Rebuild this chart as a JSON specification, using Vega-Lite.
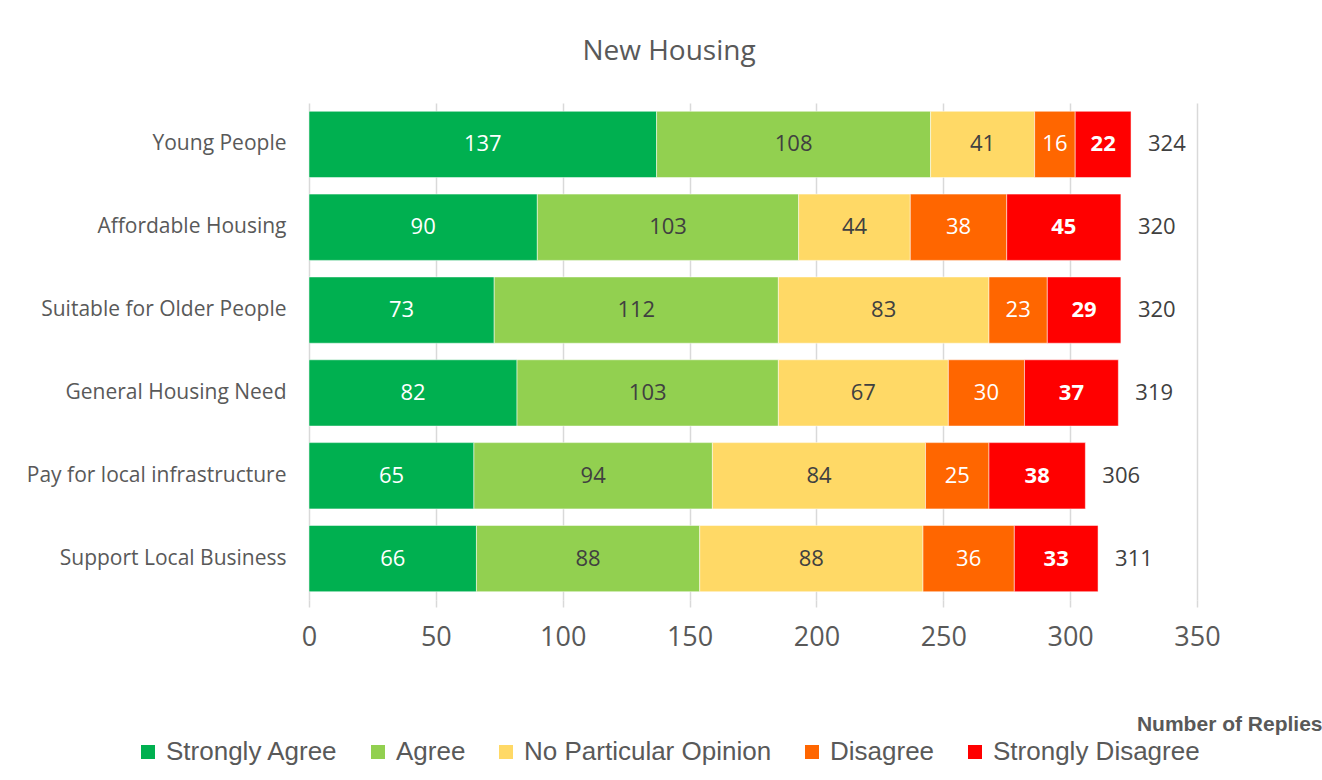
{
  "$schema": "https://vega.github.io/schema/vega-lite/v6.json",
  "autosize": "none",
  "width": 888,
  "height": 497,
  "padding": {"left": 309, "top": 103, "right": 125, "bottom": 180},
  "background": "white",
  "title": {
    "text": "New Housing",
    "font": "Open Sans",
    "fontSize": 28,
    "fontWeight": "normal",
    "color": "#595959",
    "anchor": "middle",
    "dx": -84,
    "offset": 37
  },
  "data": {
    "values": [
      {"item": "Young People", "cat": "Strongly Agree", "k": 1, "value": 137},
      {"item": "Young People", "cat": "Agree", "k": 2, "value": 108},
      {"item": "Young People", "cat": "No Particular Opinion", "k": 3, "value": 41},
      {"item": "Young People", "cat": "Disagree", "k": 4, "value": 16},
      {"item": "Young People", "cat": "Strongly Disagree", "k": 5, "value": 22},
      {"item": "Affordable Housing", "cat": "Strongly Agree", "k": 1, "value": 90},
      {"item": "Affordable Housing", "cat": "Agree", "k": 2, "value": 103},
      {"item": "Affordable Housing", "cat": "No Particular Opinion", "k": 3, "value": 44},
      {"item": "Affordable Housing", "cat": "Disagree", "k": 4, "value": 38},
      {"item": "Affordable Housing", "cat": "Strongly Disagree", "k": 5, "value": 45},
      {"item": "Suitable for Older People", "cat": "Strongly Agree", "k": 1, "value": 73},
      {"item": "Suitable for Older People", "cat": "Agree", "k": 2, "value": 112},
      {"item": "Suitable for Older People", "cat": "No Particular Opinion", "k": 3, "value": 83},
      {"item": "Suitable for Older People", "cat": "Disagree", "k": 4, "value": 23},
      {"item": "Suitable for Older People", "cat": "Strongly Disagree", "k": 5, "value": 29},
      {"item": "General Housing Need", "cat": "Strongly Agree", "k": 1, "value": 82},
      {"item": "General Housing Need", "cat": "Agree", "k": 2, "value": 103},
      {"item": "General Housing Need", "cat": "No Particular Opinion", "k": 3, "value": 67},
      {"item": "General Housing Need", "cat": "Disagree", "k": 4, "value": 30},
      {"item": "General Housing Need", "cat": "Strongly Disagree", "k": 5, "value": 37},
      {"item": "Pay for local infrastructure", "cat": "Strongly Agree", "k": 1, "value": 65},
      {"item": "Pay for local infrastructure", "cat": "Agree", "k": 2, "value": 94},
      {"item": "Pay for local infrastructure", "cat": "No Particular Opinion", "k": 3, "value": 84},
      {"item": "Pay for local infrastructure", "cat": "Disagree", "k": 4, "value": 25},
      {"item": "Pay for local infrastructure", "cat": "Strongly Disagree", "k": 5, "value": 38},
      {"item": "Support Local Business", "cat": "Strongly Agree", "k": 1, "value": 66},
      {"item": "Support Local Business", "cat": "Agree", "k": 2, "value": 88},
      {"item": "Support Local Business", "cat": "No Particular Opinion", "k": 3, "value": 88},
      {"item": "Support Local Business", "cat": "Disagree", "k": 4, "value": 36},
      {"item": "Support Local Business", "cat": "Strongly Disagree", "k": 5, "value": 33}
    ]
  },
  "transform": [
    {"stack": "value", "groupby": ["item"], "sort": [{"field": "k", "order": "ascending"}], "as": ["x0", "x1"]},
    {"calculate": "(datum.x0 + datum.x1) / 2", "as": "mid"}
  ],
  "encoding": {
    "y": {
      "field": "item",
      "type": "nominal",
      "sort": ["Young People", "Affordable Housing", "Suitable for Older People", "General Housing Need", "Pay for local infrastructure", "Support Local Business"],
      "scale": {"paddingInner": 0.2, "paddingOuter": 0.1},
      "axis": {
        "title": null,
        "domain": false,
        "ticks": false,
        "labelFont": "Open Sans",
        "labelFontSize": 21,
        "labelColor": "#595959",
        "labelPadding": 23,
        "labelLimit": 400
      }
    }
  },
  "layer": [
    {
      "mark": {"type": "bar", "stroke": "white", "strokeWidth": 0.5},
      "encoding": {
        "x": {
          "field": "x0",
          "type": "quantitative",
          "scale": {"domain": [0, 350], "nice": false},
          "axis": {
            "values": [0, 50, 100, 150, 200, 250, 300, 350],
            "domain": false,
            "grid": true,
            "gridColor": "#d9d9d9",
            "gridWidth": 1.5,
            "tickColor": "#d9d9d9",
            "tickWidth": 1.5,
            "tickSize": 7,
            "labelFont": "Open Sans",
            "labelFontSize": 27,
            "labelColor": "#595959",
            "labelPadding": 17,
            "labelFlush": false,
            "title": "Number of Replies",
            "titleFont": "Liberation Sans",
            "titleFontSize": 21,
            "titleFontWeight": "bold",
            "titleColor": "#595959",
            "titleAlign": "right",
            "titleBaseline": "middle",
            "titleX": 1013,
            "titleY": 124
          }
        },
        "x2": {"field": "x1"},
        "color": {
          "field": "cat",
          "type": "nominal",
          "sort": ["Strongly Agree", "Agree", "No Particular Opinion", "Disagree", "Strongly Disagree"],
          "scale": {
            "domain": ["Strongly Agree", "Agree", "No Particular Opinion", "Disagree", "Strongly Disagree"],
            "range": ["#00B050", "#92D050", "#FFD966", "#FF6600", "#FF0000"]
          },
          "legend": {
            "title": null,
            "orient": "none",
            "direction": "horizontal",
            "legendX": -174,
            "legendY": 636,
            "symbolType": "square",
            "symbolSize": 196,
            "symbolStrokeWidth": 0,
            "labelFont": "Liberation Sans",
            "labelFontSize": 26,
            "labelColor": "#595959",
            "labelOffset": 5,
            "columnPadding": 27,
            "labelLimit": 400
          }
        }
      }
    },
    {
      "transform": [{"filter": "datum.cat !== 'Strongly Disagree'"}],
      "mark": {"type": "text", "font": "Open Sans", "fontSize": 22, "align": "center", "baseline": "middle"},
      "encoding": {
        "x": {"field": "mid", "type": "quantitative"},
        "text": {"field": "value", "type": "quantitative"},
        "color": {
          "condition": {"test": "datum.cat === 'Agree' || datum.cat === 'No Particular Opinion'", "value": "#404040"},
          "value": "#ffffff"
        }
      }
    },
    {
      "transform": [{"filter": "datum.cat === 'Strongly Disagree'"}],
      "mark": {"type": "text", "font": "Open Sans", "fontSize": 22, "fontWeight": "bold", "align": "center", "baseline": "middle", "color": "#ffffff"},
      "encoding": {
        "x": {"field": "mid", "type": "quantitative"},
        "text": {"field": "value", "type": "quantitative"}
      }
    },
    {
      "transform": [{"aggregate": [{"op": "sum", "field": "value", "as": "total"}], "groupby": ["item"]}],
      "mark": {"type": "text", "font": "Open Sans", "fontSize": 22, "align": "left", "baseline": "middle", "dx": 17, "color": "#404040"},
      "encoding": {
        "x": {"field": "total", "type": "quantitative"},
        "text": {"field": "total", "type": "quantitative"}
      }
    }
  ],
  "config": {"view": {"stroke": null}}
}
